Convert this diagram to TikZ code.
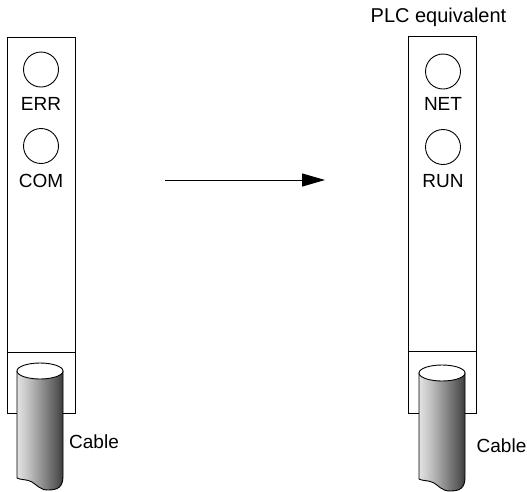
\documentclass[tikz,border=0pt]{standalone}
\usepackage{fontspec}
\setmainfont{Liberation Sans}
\usetikzlibrary{arrows.meta}
\pgfdeclarehorizontalshading{cableshade}{100bp}{color(0bp)=(black!45); color(15bp)=(white); color(38bp)=(black!25); color(68bp)=(black!65); color(86bp)=(black!95); color(100bp)=(black)}
\tikzset{
  module/.style={draw=black, line width=0.9pt},
  led/.style={draw=black, line width=0.9pt, circle, minimum size=35pt, inner sep=0pt},
  lbl/.style={inner sep=0pt, anchor=base, font=\fontsize{19}{21}\selectfont},
  cablebody/.style={draw=black, line width=0.9pt, shading=cableshade},
  cabletop/.style={draw=black, line width=0.9pt, fill=white},
}
\begin{document}
\begin{tikzpicture}[x=1pt,y=-1pt]
\useasboundingbox (0,0) rectangle (527,491);
% left module
\draw[module] (7,37) rectangle (75,413);
\draw[module] (7,352) -- (75,352);
\node[led] (err) at (41,69.5) {};
\node[lbl] (errt) at (41,110) {ERR};
\node[led] (com) at (41,146) {};
\node[lbl] (comt) at (41,187) {COM};
% left cable
\draw[cablebody] (17,371) -- (17,478)
  .. controls (20,480) and (27,479) .. (32,482)
  .. controls (37,485) and (40,490) .. (48,490)
  .. controls (58,490) and (63,487) .. (63,476)
  -- (63,371) -- cycle;
\draw[cabletop] (40,371) ellipse [x radius=23, y radius=8];
\node[lbl, anchor=base west] (cablel) at (69,448.5) {Cable};
% right module
\node[lbl, font=\fontsize{20}{22}\selectfont] (plc) at (438.5,22) {PLC equivalent};
\draw[module] (408,36) rectangle (476,413);
\draw[module] (408,351) -- (476,351);
\node[led] (net) at (443,71.5) {};
\node[lbl] (nett) at (443,110) {NET};
\node[led] (run) at (443,147) {};
\node[lbl] (runt) at (443,187) {RUN};
% right cable
\draw[cablebody] (419,373) -- (419,479)
  .. controls (422,481) and (429,480) .. (434,483)
  .. controls (439,486) and (442,491) .. (450,491)
  .. controls (460,491) and (465,488) .. (465,477)
  -- (465,373) -- cycle;
\draw[cabletop] (442,373) ellipse [x radius=23, y radius=8];
\node[lbl, anchor=base west] (cabler) at (476.5,452) {Cable};
% arrow
\coordinate (a1) at (165,180);
\coordinate (a2) at (325,180);
\draw[line width=1pt, -{Triangle[length=23pt,width=13pt]}] (a1) -- (a2);
\end{tikzpicture}
\end{document}
